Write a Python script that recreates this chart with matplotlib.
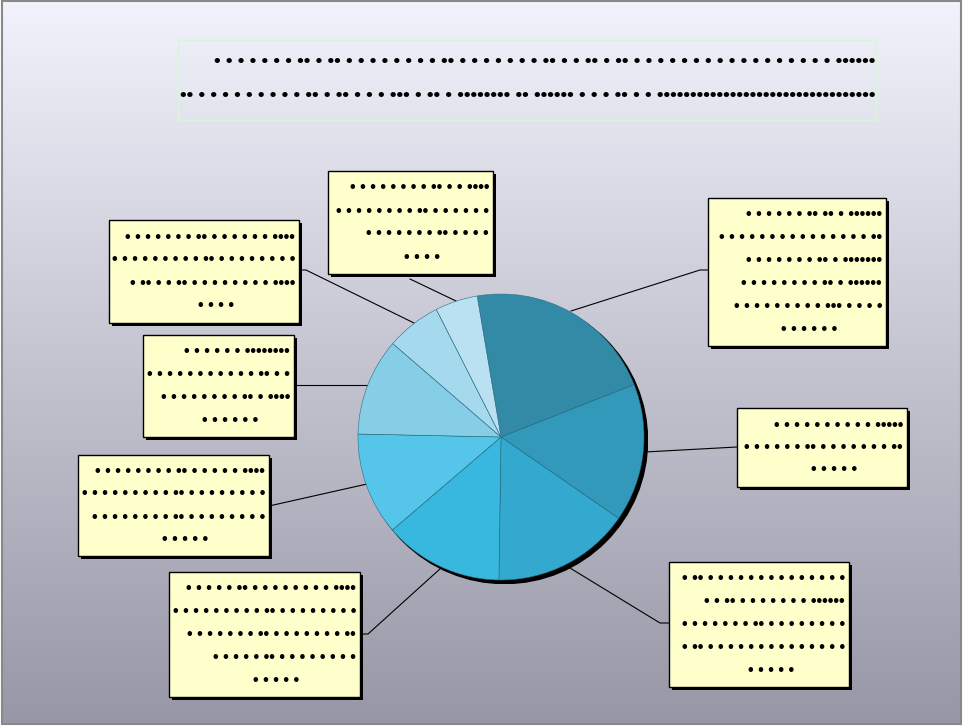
import numpy as np
import matplotlib.pyplot as plt
from matplotlib.patches import Rectangle, Circle

# slice shares (clockwise from the top)
values = [21.7, 15.6, 15.6, 13.5, 11.6, 11.0, 6.2, 4.8]
colors = ['#338aa6', '#3399bb', '#33a9cf', '#38b8df', '#55c5ea', '#86cde6', '#a5d9ee', '#b9e1f2']

# the texts in the picture survive only as dots: each list gives the runs of dots
# on one line of text (1 = a lone dot, 6 = six dots run together)
label_runs = [
    [[1, 1, 1, 1, 1, 1, 2, 2, 1, 6], [1] * 15 + [2], [1, 1, 1, 1, 1, 1, 1, 2, 1, 7],
     [1, 1, 1, 1, 1, 1, 1, 1, 2, 1, 6], [1] * 9 + [3] + [1] * 4, [1] * 6],
    [[1] * 10 + [5], [1] * 6 + [2] + [1] * 7 + [2], [1] * 5],
    [[1, 2] + [1] * 14, [1, 1, 2, 1, 1, 1, 1, 1, 1, 1, 6], [1] * 7 + [2] + [1] * 8,
     [1, 2] + [1] * 14, [1] * 5],
    [[1] * 5 + [2] + [1] * 8 + [4], [1] * 9 + [2] + [1] * 8, [1] * 7 + [2] + [1] * 7 + [2],
     [1] * 5 + [2] + [1] * 8, [1] * 5],
    [[1] * 8 + [2] + [1] * 5 + [4], [1] * 9 + [2] + [1] * 8, [1] * 8 + [2] + [1] * 8, [1] * 5],
    [[1] * 6 + [8], [1] * 11 + [2] + [1] * 2, [1] * 8 + [2, 1, 4], [1] * 6],
    [[1] * 7 + [2] + [1] * 6 + [4], [1] * 9 + [2] + [1] * 8, [1, 2, 1, 1, 2] + [1] * 8 + [4], [1] * 4],
    [[1] * 8 + [2, 1, 1, 4], [1] * 8 + [2] + [1] * 6, [1] * 7 + [2] + [1] * 4, [1] * 4],
]
title_runs = [
    [1, 1, 1, 1, 1, 1, 1, 2, 1, 2, 1, 1, 1, 1, 1, 1, 1, 1, 2, 1, 1, 1, 1, 1, 1, 1, 2, 1, 1,
     2, 1, 2, 1, 1, 1, 1, 1, 1, 1, 1, 1, 1, 1, 1, 1, 1, 1, 1, 1, 6],
    [2, 1, 1, 1, 1, 1, 1, 1, 1, 1, 2, 1, 2, 1, 1, 1, 3, 1, 2, 1, 8, 2, 6, 1, 1, 1, 2, 1, 1, 33],
]

# label boxes (x0, y0, x1, y1) and leader lines, in pixels
boxes = [(708, 198, 886, 346), (737, 408, 907, 487), (669, 562, 849, 687), (169, 572, 360, 697),
         (78, 455, 269, 556), (143, 335, 294, 437), (109, 220, 299, 323), (328, 171, 493, 274)]
leaders = [[(571, 311), (700, 270), (708, 270)], [(645, 452), (737, 447)],
           [(570, 568), (660, 623), (669, 623)], [(441, 568), (368, 634), (360, 634)],
           [(367, 484), (269, 506)], [(367, 385), (294, 385)],
           [(414, 323), (306, 270), (299, 270)], [(456, 301), (410, 279)]]


def dots(runs):
    return ' '.join('\u2022' * n for n in runs)


W, H = 963, 726
cx, cy, r = 501, 437, 143
font = 'Liberation Sans'

fig = plt.figure(figsize=(W / 100, H / 100), dpi=100)
bg = fig.add_axes([0, 0, 1, 1])
bg.set_xlim(0, W)
bg.set_ylim(H, 0)
bg.axis('off')

# background gradient
grad = np.linspace(0, 1, 256).reshape(-1, 1)
top = np.array([0.95, 0.95, 0.99])
bot = np.array([0.59, 0.59, 0.65])
img = top + (bot - top) * grad[:, :, None]
bg.imshow(img, extent=[3, W - 1, H - 1, 2], aspect='auto', zorder=0)
bg.add_patch(Rectangle((2, 1), W - 4, H - 3, fill=False, ec='#888888', lw=1.5, zorder=1))

# title box
bg.add_patch(Rectangle((178, 40), 698, 80, fill=False, ec='#d8f5d8', lw=1, zorder=2))
for i, runs in enumerate(title_runs):
    bg.text(875, 62 + i * 33, dots(runs), ha='right', va='center', fontsize=13.5,
            family=font, fontweight='bold', color='black', zorder=3)

for pts in leaders:
    xs, ys = zip(*pts)
    bg.plot(xs, ys, color='black', lw=0.8, zorder=2)

for (x0, y0, x1, y1), lines in zip(boxes, label_runs):
    bg.add_patch(Rectangle((x0 + 3, y0 + 3), x1 - x0, y1 - y0, fc='black', ec='none', zorder=3))
    bg.add_patch(Rectangle((x0, y0), x1 - x0, y1 - y0, fc='#ffffcc', ec='black', lw=1, zorder=4))
    n = len(lines)
    step = 23 if n > 3 else 22
    ystart = (y0 + y1) / 2 - step * (n - 1) / 2
    for i, runs in enumerate(lines):
        if i == n - 1:
            bg.text((x0 + x1) / 2 + 12, ystart + i * step, dots(runs), ha='center', va='center',
                    fontsize=11.5, family=font, fontweight='bold', color='black', zorder=5)
        else:
            bg.text(x1 - 4, ystart + i * step, dots(runs), ha='right', va='center',
                    fontsize=11.5, family=font, fontweight='bold', color='black', zorder=5)

# pie
ax = fig.add_axes([(cx - r * 1.03) / W, (H - cy - r * 1.03) / H, 2 * r * 1.03 / W, 2 * r * 1.03 / H])
ax.add_patch(Circle((0.025, -0.025), 1.0, color='black', zorder=0))
ax.pie(values, colors=colors, startangle=99.6, counterclock=False, radius=1,
       wedgeprops=dict(edgecolor='#2a6f85', linewidth=0.4))
ax.set_xlim(-1.03, 1.03)
ax.set_ylim(-1.03, 1.03)
ax.set_aspect('equal')
ax.axis('off')

fig.savefig('out.png', dpi=100)
